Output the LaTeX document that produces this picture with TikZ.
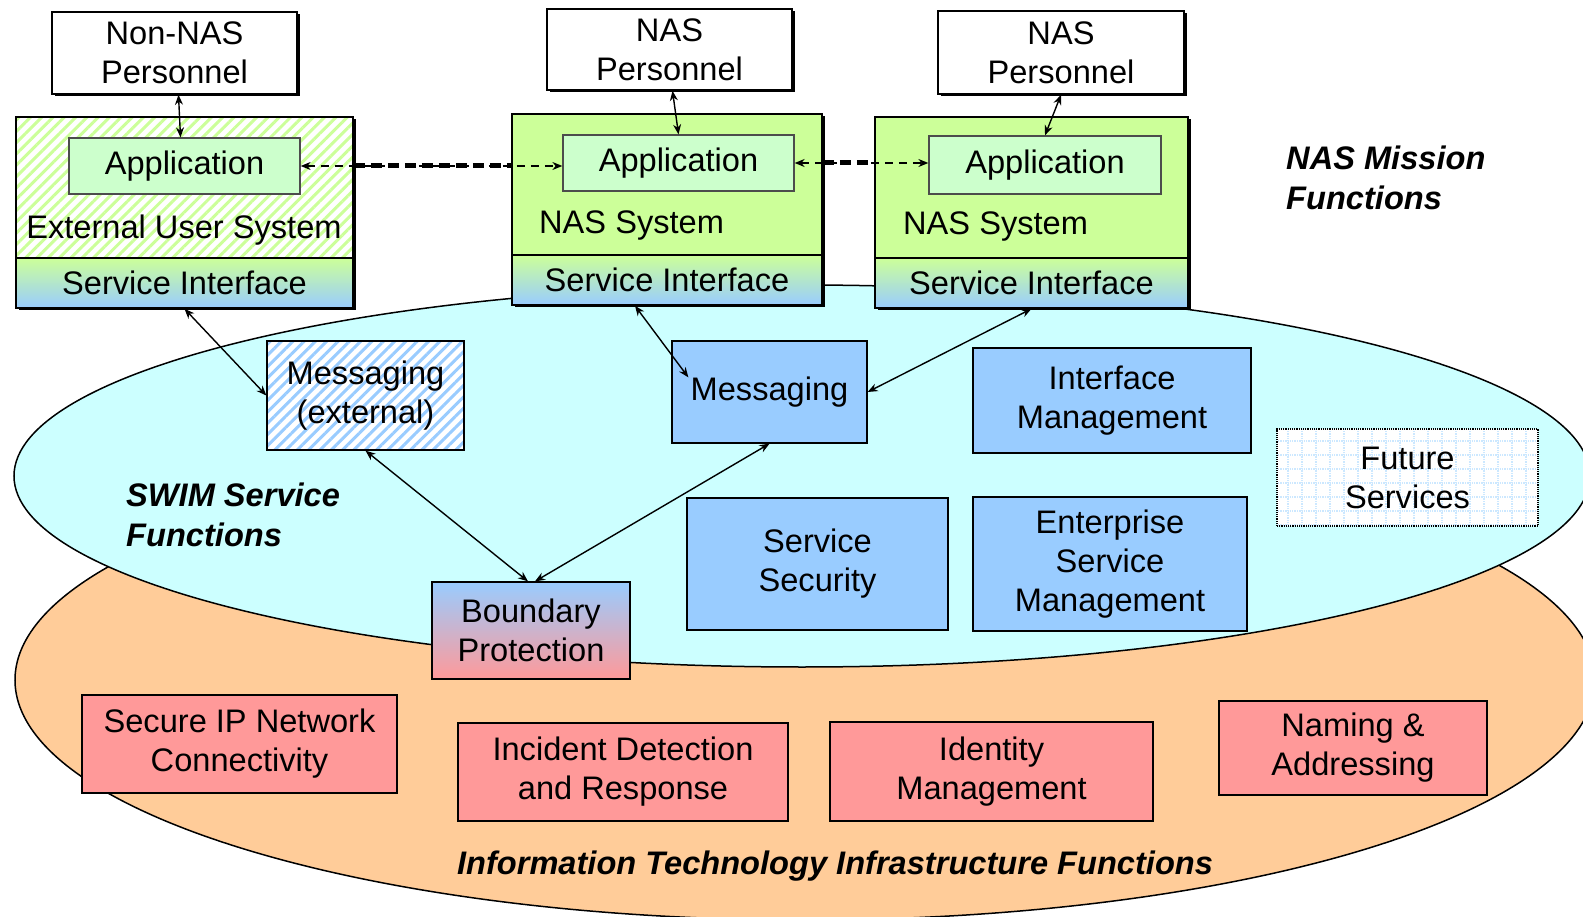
\documentclass[tikz,border=0pt]{standalone}
\usepackage{fontspec}
\setmainfont{Liberation Sans}
\usetikzlibrary{shapes.geometric,arrows.meta,patterns.meta,shadows,calc}
\definecolor{sysgreen}{HTML}{CCFF99}
\definecolor{appgreen}{HTML}{CCFFCC}
\definecolor{blueone}{HTML}{99CCFF}
\definecolor{pinkone}{HTML}{FF9999}
\definecolor{cyanone}{HTML}{CCFFFF}
\definecolor{orangeone}{HTML}{FFCC99}
\definecolor{gridblue}{HTML}{CCE8FF}
\begin{document}
\begin{tikzpicture}[x=1pt,y=-1pt,
  font=\fontsize{32.6}{39}\selectfont,
  box/.style={draw=black, line width=1.6pt, inner sep=0pt, align=center},
  shadowed/.style={drop shadow={shadow xshift=2.5pt,shadow yshift=-2.5pt,fill=black,opacity=1}},
  person/.style={box, fill=white, shadowed},
  sysbox/.style={box, fill=sysgreen, shadowed},
  extbox/.style={box, shadowed, preaction={fill=white}, preaction={pattern={Lines[angle=45,distance=8pt,line width=3pt]}, pattern color=sysgreen}},
  appbox/.style={draw=black!70, line width=1.3pt, fill=appgreen, inner sep=0pt},
  band/.style={box, top color=sysgreen, bottom color=blueone},
  bluebox/.style={box, line width=1.3pt, fill=blueone},
  pinkbox/.style={box, line width=1.3pt, fill=pinkone},
  hatchblue/.style={box, line width=1.3pt, preaction={fill=white}, preaction={pattern={Lines[angle=45,distance=8pt,line width=3pt]}, pattern color=blueone}},
  future/.style={draw=black, line width=1.2pt, densely dotted, preaction={fill=white}, preaction={pattern={Hatch[angle=0,distance=14pt,line width=2pt]}, pattern color=gridblue}, inner sep=0pt},
  conn/.style={line width=1.4pt, {Stealth[length=10pt,width=8pt]}-{Stealth[length=10pt,width=8pt]}},
  thindash/.style={line width=1.2pt, dash pattern=on 8pt off 6pt, {Stealth[length=10pt,width=8pt]}-{Stealth[length=10pt,width=8pt]}},
  thickdash/.style={line width=5pt, dash pattern=on 11pt off 6pt},
  title/.style={font=\fontsize{32.6}{40}\selectfont\bfseries\itshape, inner sep=0pt, align=left},
  lbl/.style={inner sep=0pt, align=center}
]
\useasboundingbox (0,0) rectangle (1583,917);
\fill[white] (0,0) rectangle (1583,917);

% ellipses
\node[ellipse, draw=black, line width=1.5pt, fill=orangeone, minimum width=1580pt, minimum height=480pt, inner sep=0pt] (itell) at (805,680) {};
\node[ellipse, draw=black, line width=1.5pt, fill=cyanone, minimum width=1576pt, minimum height=382pt, inner sep=0pt] (swimell) at (802,476) {};

% personnel
\node[person, minimum width=245pt, minimum height=82pt] (nonnas) at (174.5,53) {Non-NAS\\Personnel};
\node[person, minimum width=245pt, minimum height=81pt] (nasp1) at (669.5,49.5) {NAS\\Personnel};
\node[person, minimum width=246pt, minimum height=83pt] (nasp2) at (1061,52.5) {NAS\\Personnel};

% systems
\node[extbox, minimum width=337pt, minimum height=191pt] (extsys) at (184.5,212.5) {};
\node[band, minimum width=337pt, minimum height=50pt] (extband) at (184.5,283) {Service Interface};
\node[appbox, minimum width=231pt, minimum height=56pt] (extapp) at (184.5,166) {Application};
\node[lbl] (extlbl) at (184,230) {External User System};

\node[sysbox, minimum width=310pt, minimum height=191pt] (sys1) at (667,209.5) {};
\node[band, minimum width=310pt, minimum height=50pt] (band1) at (667,280) {Service Interface};
\node[appbox, minimum width=231pt, minimum height=56pt] (app1) at (678.5,163) {Application};
\node[lbl, anchor=west] (sys1lbl) at (539,226) {NAS System};

\node[sysbox, minimum width=313pt, minimum height=191pt] (sys2) at (1031.5,212.5) {};
\node[band, minimum width=313pt, minimum height=50pt] (band2) at (1031.5,283) {Service Interface};
\node[appbox, minimum width=232pt, minimum height=58pt] (app2) at (1045,165) {Application};
\node[lbl, anchor=west] (sys2lbl) at (903,227) {NAS System};

\node[title, anchor=west] (mission) at (1286,177.5) {NAS Mission\\Functions};

% SWIM services
\node[hatchblue, minimum width=197pt, minimum height=109pt] (msgext) at (365.5,395.5) {Messaging\\(external)};
\node[bluebox, minimum width=195pt, minimum height=102pt] (msg) at (769.5,392) {Messaging};
\node[bluebox, minimum width=278pt, minimum height=105pt] (ifm) at (1112,400.5) {Interface\\Management};
\node[future, minimum width=261pt, minimum height=97pt, align=center] (fut) at (1407.5,477.5) {Future\\Services};
\node[bluebox, minimum width=261pt, minimum height=132pt] (sec) at (817.5,564) {Service\\Security};
\node[bluebox, minimum width=274pt, minimum height=134pt] (esm) at (1110,564) {Enterprise\\Service\\Management};
\node[title, anchor=west] (swim) at (126,515) {SWIM Service\\Functions};

\node[box, line width=1.3pt, top color=blueone, bottom color=pinkone, minimum width=198pt, minimum height=97pt] (bound) at (531,630.5) {Boundary\\Protection};

% IT infrastructure
\node[pinkbox, minimum width=315pt, minimum height=98pt] (sip) at (239.5,744) {Secure IP Network\\Connectivity};
\node[pinkbox, minimum width=330pt, minimum height=98pt] (idr) at (623,772) {Incident Detection\\and Response};
\node[pinkbox, minimum width=323pt, minimum height=99pt] (idm) at (991.5,771.5) {Identity\\Management};
\node[pinkbox, minimum width=268pt, minimum height=94pt] (nam) at (1353,748) {Naming \&\\Addressing};
\node[title, align=center] (itlbl) at (835,866) {Information Technology Infrastructure Functions};

% connectors
\draw[conn] ([xshift=4pt]nonnas.south) -- ([xshift=-4pt]extapp.north);
\draw[conn] ([xshift=3pt]nasp1.south) -- (app1.north);
\draw[conn] (nasp2.south) -- (app2.north);

\draw[thickdash] (extsys.east |- extapp.east) -- (sys1.west |- extapp.east);
\draw[thindash] (extapp.east) -- (app1.west |- extapp.east);
\draw[thickdash] (sys1.east |- app1.east) -- (sys2.west |- app1.east);
\draw[thindash] (app1.east) -- (app2.west |- app1.east);

\coordinate (msgin) at ($(msg.north west)+(17,37)$);
\draw[conn] (extband.south) -- (msgext.west);
\draw[conn] ([xshift=-32pt]band1.south) -- (msgin);
\draw[conn] (band2.south) -- (msg.east);
\draw[conn] (msgext.south) -- ([xshift=-3pt]bound.north);
\draw[conn] (msg.south) -- ([xshift=4pt]bound.north);
\end{tikzpicture}
\end{document}
